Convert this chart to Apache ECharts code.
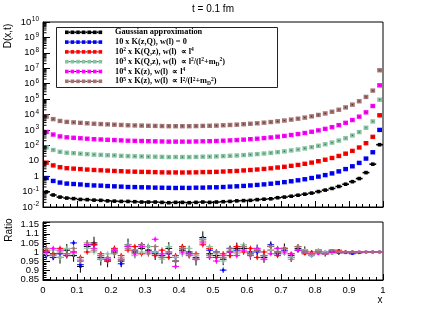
<!DOCTYPE html>
<html><head><meta charset="utf-8">
<script src="https://cdn.jsdelivr.net/npm/echarts@6/dist/echarts.min.js"></script>
<style>html,body{margin:0;padding:0;background:#fff}#c{width:427px;height:311px}</style>
</head><body><div id="c"></div>
<script>
// ---------- DATA ----------
const xBins = [0.01,0.03,0.05,0.07,0.09,0.11,0.13,0.15,0.17,0.19,0.21,0.23,0.25,0.27,0.29,0.31,0.33,0.35,0.37,0.39,0.41,0.43,0.45,0.47,0.49,0.51,0.53,0.55,0.57,0.59,0.61,0.63,0.65,0.67,0.69,0.71,0.73,0.75,0.77,0.79,0.81,0.83,0.85,0.87,0.89,0.91,0.93,0.95,0.97,0.99];
const seriesNames = ['Gaussian approximation','10 x K(z,Q)','10^2 x K(Q,z) l4','10^3 x K(Q,z) mD','10^4 x K(z) l4','10^5 x K(z) mD'];
const gauss = [0.095,0.060,0.044,0.038,0.035,0.031,0.030,0.028,0.027,0.025,0.024,0.023,0.023,0.022,0.021,0.021,0.021,0.020,0.019,0.020,0.020,0.019,0.020,0.021,0.020,0.021,0.022,0.023,0.025,0.026,0.027,0.030,0.032,0.034,0.040,0.044,0.050,0.058,0.068,0.080,0.100,0.125,0.160,0.215,0.300,0.440,0.700,1.70,6.0,110];
const kzQ = [0.76,0.49,0.385,0.33,0.31,0.29,0.265,0.25,0.243,0.228,0.219,0.21,0.198,0.196,0.19,0.187,0.18,0.178,0.175,0.172,0.175,0.173,0.179,0.18,0.187,0.19,0.198,0.21,0.22,0.233,0.25,0.27,0.293,0.325,0.362,0.41,0.466,0.54,0.63,0.76,0.935,1.17,1.51,2.04,2.88,4.36,7.25,13.8,35.5,1000];
const kQz4 = [7.5,5.0,3.82,3.3,3.08,2.9,2.68,2.52,2.4,2.3,2.18,2.1,2.0,1.95,1.9,1.87,1.82,1.77,1.74,1.75,1.73,1.75,1.77,1.83,1.86,1.9,2.0,2.1,2.18,2.35,2.5,2.7,2.95,3.23,3.64,4.06,4.68,5.36,6.32,7.58,9.35,11.7,15.1,20.4,28.8,43.7,72.3,138,355,8900];
const kQzM = [74,50,38.2,33,31,28.8,27,25,24,22.8,22,20.8,20,19.5,19.1,18.6,18.2,17.8,17.4,17.5,17.4,17.3,17.8,18.3,18.6,19.1,20,20.9,21.9,23.4,25.1,26.9,29.5,32.4,36.3,40.7,46.8,53.7,63.1,75.9,93.3,117,151,204,288,437,724,1380,3550,91000];
const kz4 = [741,501,380,331,309,288,269,251,240,229,219,209,200,195,191,186,182,178,174,174,174,174,178,182,186,191,200,209,219,234,251,269,295,324,363,407,468,537,631,759,933,1170,1510,2040,2880,4370,7240,13800,35500,780000];
const kzM = [7410,5010,3800,3310,3090,2880,2690,2510,2400,2290,2190,2090,2000,1950,1910,1860,1820,1780,1740,1740,1740,1740,1780,1820,1860,1910,2000,2090,2190,2340,2510,2690,2950,3240,3630,4070,4680,5370,6310,7590,9330,11700,15100,20400,28800,43700,72400,138000,355000,7400000];

const rGauss = [1.00,0.99,0.97,1.01,0.98,0.92,1.03,1.05,0.96,0.95,1.00,0.95,1.04,1.00,1.02,1.01,0.99,0.97,1.02,0.95,1.01,1.00,0.96,1.08,0.99,0.98,0.96,1.00,1.02,1.02,0.99,1.01,0.97,1.03,1.00,1.02,0.97,1.02,1.01,0.99,1.00,0.99,1.00,0.995,1.00,1.00,0.995,1.00,1.00,1.00];
const rKzQ = [0.98,0.97,0.99,0.98,1.05,0.93,1.04,1.04,0.97,0.96,1.01,0.935,1.03,1.01,1.04,1.03,1.00,0.98,0.99,0.97,1.02,0.99,0.97,1.07,1.01,1.00,0.90,1.02,1.01,1.03,1.00,1.00,0.98,1.04,0.99,1.01,0.98,1.01,1.00,0.98,1.01,1.00,1.01,1.00,0.995,0.99,1.00,1.00,1.00,1.00];
const rKQz4 = [1.01,0.99,1.02,0.98,1.00,0.97,1.00,1.04,0.99,0.95,1.02,0.98,1.01,1.03,0.99,1.03,0.98,1.01,0.97,0.98,1.03,0.98,0.99,1.04,1.02,0.97,0.99,0.98,1.03,1.00,1.02,0.97,1.00,1.01,0.98,1.02,0.99,1.03,0.99,1.00,1.01,0.99,1.00,1.01,1.00,1.00,1.00,1.00,1.00,1.00];
const rKQzM = [0.99,1.01,0.97,1.02,0.99,0.96,1.02,1.00,0.96,0.99,1.01,0.97,1.04,0.98,1.00,1.03,1.00,0.96,1.03,0.97,0.99,1.02,0.98,1.07,1.03,0.99,0.95,1.01,0.99,1.04,0.98,1.02,0.96,1.01,1.02,0.99,0.97,1.03,1.01,0.98,1.01,1.00,0.99,1.00,1.00,1.00,1.00,1.00,1.00,1.00];
const rKz4 = [1.00,1.02,1.01,0.99,1.00,0.95,1.04,1.02,0.98,0.96,1.01,0.96,1.03,0.99,1.03,1.00,1.07,0.99,1.00,0.92,1.00,0.99,0.96,1.05,0.97,0.95,0.98,1.00,0.98,1.01,0.98,1.02,0.96,0.99,1.02,1.00,0.99,1.01,1.00,0.99,0.99,0.99,1.00,1.00,1.00,1.00,1.00,1.00,1.00,1.00];
const rKzM = [1.02,0.98,1.00,0.99,1.02,0.95,1.05,1.01,0.98,0.97,0.99,0.96,1.02,1.01,1.04,0.99,1.03,0.97,1.00,0.95,1.02,0.98,0.96,1.06,0.98,1.00,0.97,1.02,1.00,1.03,0.99,1.01,0.98,1.03,1.00,1.02,0.96,1.03,1.00,0.99,1.00,0.99,1.01,1.00,1.00,1.00,1.00,1.00,1.00,1.00];
const errGauss = [0.036,0.035,0.034,0.034,0.034,0.034,0.034,0.034,0.034,0.034,0.034,0.034,0.034,0.034,0.034,0.034,0.034,0.034,0.034,0.034,0.034,0.034,0.034,0.034,0.033,0.033,0.033,0.033,0.032,0.032,0.032,0.031,0.030,0.029,0.028,0.027,0.025,0.023,0.021,0.019,0.017,0.015,0.013,0.011,0.009,0.008,0.006,0.005,0.004,0.003];
const errKernel = [0.015,0.015,0.015,0.015,0.015,0.015,0.015,0.015,0.015,0.015,0.015,0.015,0.015,0.015,0.015,0.015,0.015,0.015,0.015,0.015,0.015,0.015,0.015,0.015,0.015,0.015,0.015,0.015,0.015,0.015,0.015,0.015,0.015,0.014,0.014,0.013,0.012,0.011,0.01,0.009,0.008,0.007,0.006,0.005,0.004,0.004,0.003,0.003,0.002,0.002];
const xTicks = [0,0.1,0.2,0.3,0.4,0.5,0.6,0.7,0.8,0.9,1];
const ratioTicks = [0.85,0.9,0.95,1,1.05,1.1,1.15];
const halfBin = 0.01;

// ---------- STYLE ----------
const colors = ['#000000','#0000ff','#ff0000','#86c3a2','#ff00ff','#a37373'];
const darks  = ['#000000','#000070','#800000','#2f6a4a','#800080','#4d2b2b'];
const topData = [gauss,kzQ,kQz4,kQzM,kz4,kzM];
const ratioData = [rGauss,rKzQ,rKQz4,rKQzM,rKz4,rKzM];
const errData = [errGauss,errKernel,errKernel,errKernel,errKernel,errKernel];
const SANS = '"Liberation Sans", Arial, sans-serif';
const SERIF = '"Liberation Serif", "Times New Roman", serif';

const chart = echarts.init(document.getElementById('c'), null, {renderer:'canvas', width:427, height:311});

function topRender(idx){
  return function(params, api){
    const x = api.value(0), y = api.value(1);
    const p = api.coord([x,y]);
    const l = api.coord([x-halfBin,y]), r = api.coord([x+halfBin,y]);
    if (idx === 0) {
      return {type:'group', children:[
        {type:'line', shape:{x1:l[0],y1:p[1],x2:r[0],y2:p[1]}, style:{stroke:'#000',lineWidth:1.6}},
        {type:'rect', shape:{x:p[0]-1.8,y:p[1]-1.8,width:3.6,height:3.6}, style:{fill:'#000'}}
      ]};
    }
    return {type:'group', children:[
      {type:'rect', shape:{x:p[0]-2.4,y:p[1]-2.2,width:4.8,height:4.4}, style:{fill:colors[idx]}},
      {type:'rect', shape:{x:p[0]-0.6,y:p[1]-0.6,width:1.2,height:1.2}, style:{fill:darks[idx]}}
    ]};
  };
}
function ratioRender(idx){
  return function(params, api){
    const x = api.value(0), y = api.value(1), e = api.value(2);
    const p = api.coord([x,y]);
    const l = api.coord([x-halfBin,y]), r = api.coord([x+halfBin,y]);
    const t = api.coord([x,y+e]), b = api.coord([x,y-e]);
    const c = colors[idx];
    return {type:'group', children:[
      {type:'line', shape:{x1:l[0],y1:p[1],x2:r[0],y2:p[1]}, style:{stroke:c,lineWidth:1}},
      {type:'line', shape:{x1:p[0],y1:t[1],x2:p[0],y2:b[1]}, style:{stroke:c,lineWidth:1}},
      {type:'rect', shape:{x:p[0]-1.2,y:p[1]-1.2,width:2.4,height:2.4}, style:{fill:c}}
    ]};
  };
}

const series = [];
for (let s=0; s<6; s++){
  series.push({type:'custom', name:seriesNames[s], xAxisIndex:0, yAxisIndex:0, clip:true, silent:true,
    data: xBins.map((x,i)=>[x, topData[s][i]]), renderItem: topRender(s), z: 3});
}
[0,1,2,3,4,5].forEach(s=>{
  series.push({type:'custom', name:'r'+s, xAxisIndex:1, yAxisIndex:1, clip:true, silent:true,
    data: xBins.map((x,i)=>[x, ratioData[s][i], errData[s][i]]), renderItem: ratioRender(s), z: s===0?3:4});
});
// log minor ticks (axis decoration, ROOT style 2..9 per decade)
const logMinor = [];
for (let e=-2; e<10; e++) for (let k=2; k<10; k++) logMinor.push([0, k*Math.pow(10,e)]);
series.push({type:'custom', xAxisIndex:0, yAxisIndex:0, silent:true, clip:true, data: logMinor, z:5,
  renderItem:(p,api)=>{const c=api.coord([api.value(0),api.value(1)]);
    return {type:'line', shape:{x1:c[0],y1:c[1],x2:c[0]+3.5,y2:c[1]}, style:{stroke:'#000',lineWidth:1}};}});

function logLabel(v){
  const e = Math.round(Math.log10(v));
  if (e===0) return '{b|1}';
  if (e===1) return '{b|10}';
  return '{b|10}{s|'+e+'}';
}

const axisText = {color:'#000', fontFamily:SANS, fontSize:9.5};
const option = {
  animation:false,
  backgroundColor:'#fff',
  grid:[
    {left:43, top:22, width:340, height:185, show:true, borderColor:'#000', borderWidth:1, backgroundColor:'transparent', outerBoundsMode:'none', containLabel:false},
    {left:43, top:222, width:340, height:58, show:true, borderColor:'#000', borderWidth:1, backgroundColor:'transparent', outerBoundsMode:'none', containLabel:false}
  ],
  xAxis:[
    {type:'value', gridIndex:0, min:xTicks[0], max:xTicks[xTicks.length-1], interval:0.1,
      axisLine:{show:true, lineStyle:{color:'#000'}}, axisTick:{inside:true, length:6, lineStyle:{color:'#000'}},
      minorTick:{show:true, splitNumber:5, length:3, lineStyle:{color:'#000'}},
      axisLabel:{show:false}, splitLine:{show:false}},
    {type:'value', gridIndex:1, min:xTicks[0], max:xTicks[xTicks.length-1], interval:0.1,
      axisLine:{show:true, lineStyle:{color:'#000'}}, axisTick:{inside:true, length:6, lineStyle:{color:'#000'}},
      minorTick:{show:true, splitNumber:5, length:3, lineStyle:{color:'#000'}},
      axisLabel:Object.assign({margin:5, showMinLabel:true, showMaxLabel:true, hideOverlap:false}, axisText), splitLine:{show:false}}
  ],
  yAxis:[
    {type:'log', gridIndex:0, logBase:10, min:0.01, max:1e10, interval:1,
      axisLine:{show:true, lineStyle:{color:'#000'}}, axisTick:{inside:true, length:7, lineStyle:{color:'#000'}},
      axisLabel:{margin:4, formatter:logLabel, hideOverlap:false, showMinLabel:true, showMaxLabel:true,
        rich:{b:{color:'#000', fontFamily:SANS, fontSize:9.5, lineHeight:14, verticalAlign:'middle'},
              s:{color:'#000', fontFamily:SANS, fontSize:6.5, lineHeight:14, verticalAlign:'top', padding:[1,0,0,0.5]}}},
      splitLine:{show:false}},
    {type:'value', gridIndex:1, min:0.8455, max:1.1655, minInterval:0.05, maxInterval:0.05, splitNumber:6,
      axisLine:{show:true, lineStyle:{color:'#000'}}, axisTick:{inside:true, length:7, lineStyle:{color:'#000'}},
      minorTick:{show:true, splitNumber:5, length:3.5, lineStyle:{color:'#000'}},
      axisLabel:Object.assign({margin:4, showMinLabel:false, showMaxLabel:false, hideOverlap:false,
        formatter:v=>{const r=Math.round(v*100)/100; return ratioTicks.indexOf(r)>=0 && Math.abs(v-r)<1e-6 ? String(r) : '';}}, axisText),
      splitLine:{show:false}}
  ],
  series: series,
  graphic: buildGraphic()
};

function buildGraphic(){
  const g = [];
  g.push({type:'text', x:213, y:9, style:{text:'t = 0.1 fm', fontFamily:SANS, fontSize:10, fill:'#000', align:'center', verticalAlign:'middle'}});
  g.push({type:'text', x:8, y:36, rotation:Math.PI/2, style:{text:'D(x,t)', fontFamily:SANS, fontSize:10, fill:'#000', align:'center', verticalAlign:'middle'}});
  g.push({type:'text', x:9, y:230, rotation:Math.PI/2, style:{text:'Ratio', fontFamily:SANS, fontSize:10, fill:'#000', align:'center', verticalAlign:'middle'}});
  g.push({type:'text', x:380, y:300, style:{text:'x', fontFamily:SANS, fontSize:10, fill:'#000', align:'center', verticalAlign:'middle'}});
  // legend box
  g.push({type:'rect', z:10, shape:{x:56.5, y:27.5, width:221, height:60}, style:{fill:'#fff', stroke:'#222', lineWidth:1}});
  const texts = [
    '{n|Gaussian approximation}',
    '{n|10 x K(z,Q), w(l) = 0}',
    '{n|10}{s|2}{n| x K(Q,z), w(l)  ∝ l}{s|4}',
    '{n|10}{s|3}{n| x K(Q,z), w(l)  ∝ l}{s|2}{n|/(l}{s|2}{n|+m}{d|D}{s|2}{n|)}',
    '{n|10}{s|4}{n| x K(z), w(l)  ∝ l}{s|4}',
    '{n|10}{s|5}{n| x K(z), w(l)  ∝ l}{s|2}{n|/(l}{s|2}{n|+m}{d|D}{s|2}{n|)}'
  ];
  const rich = {
    n:{fontFamily:SERIF, fontWeight:'bold', fontSize:8.3, fill:'#000', color:'#000', lineHeight:11, verticalAlign:'middle'},
    s:{fontFamily:SERIF, fontWeight:'bold', fontSize:5.5, fill:'#000', color:'#000', lineHeight:11, verticalAlign:'top', padding:[0.5,0,0,0]},
    d:{fontFamily:SERIF, fontWeight:'bold', fontSize:5.5, fill:'#000', color:'#000', lineHeight:11, verticalAlign:'bottom'}
  };
  for (let i=0;i<6;i++){
    const cy = 32.3 + i*9.8;
    for (let k=0;k<7;k++){
      const x0 = 65 + k*5.6;
      g.push({type:'rect', z:12, shape:{x:x0, y:cy-1.8, width:3.6, height:3.6}, style:{fill:colors[i]}});
      if (k<6) g.push({type:'rect', z:12, shape:{x:x0+3.6, y:cy-(i===0?0.9:0.5), width:2.0, height:(i===0?1.8:1)}, style:{fill:i===0?'#000':darks[i]}});
    }
    g.push({type:'text', z:12, x:115, y:cy, style:{text:texts[i], rich:rich, fill:'#000', align:'left', verticalAlign:'middle'}});
  }
  return g;
}

chart.setOption(option);
</script>
</body></html>
